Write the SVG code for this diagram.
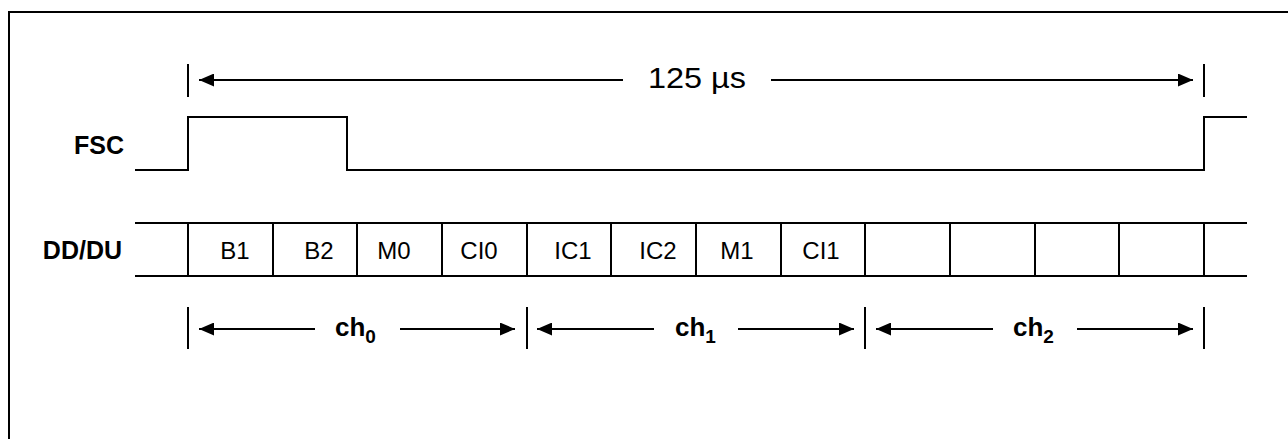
<svg xmlns="http://www.w3.org/2000/svg" width="1288" height="439" viewBox="0 0 1288 439">
<style>
.ln{stroke:#000;stroke-width:2;fill:none}
.lbl{font-family:"Liberation Sans",Arial,sans-serif;font-weight:bold;font-size:25px;fill:#000}
.cell{font-family:"Liberation Sans",Arial,sans-serif;font-size:24px;fill:#000;text-anchor:middle}
.ch{font-family:"Liberation Sans",Arial,sans-serif;font-weight:bold;font-size:26px;fill:#000}
.sub{font-size:19px}
.dim{font-family:"Liberation Sans",Arial,sans-serif;font-size:29px;fill:#000}
</style>
<defs>
<marker id="ah" viewBox="0 0 15 13" refX="15" refY="6.5" markerWidth="15" markerHeight="13" markerUnits="userSpaceOnUse" orient="auto-start-reverse">
<path d="M0,0 L15,6.5 L0,13 Z" fill="#000"/>
</marker>
</defs>
<rect width="1288" height="439" fill="#fff"/>
<g id="frame">
<path class="ln" d="M9,439 V12 H1288"/>
</g>
<g id="period">
<line class="ln" x1="188" y1="64" x2="188" y2="97"/>
<line class="ln" x1="1204" y1="64" x2="1204" y2="97"/>
<text class="dim" x="648" y="88" textLength="98" lengthAdjust="spacingAndGlyphs">125 µs</text>
</g>
<g id="fsc">
<text class="lbl" x="124" y="154" text-anchor="end">FSC</text>
<path class="ln" d="M135,170 H188 V117 H347 V170 H1204 V117 H1247"/>
</g>
<g id="dddu">
<text class="lbl" x="122" y="259" text-anchor="end">DD/DU</text>
<line class="ln" x1="135" y1="223" x2="1247" y2="223"/>
<line class="ln" x1="135" y1="276" x2="1247" y2="276"/>
<path class="ln" d="M188,223V276 M273,223V276 M357,223V276 M442,223V276 M527,223V276 M611,223V276 M696,223V276 M781,223V276 M865,223V276 M950,223V276 M1035,223V276 M1119,223V276 M1204,223V276"/>
<text class="cell" x="235" y="259">B1</text>
<text class="cell" x="319" y="259">B2</text>
<text class="cell" x="394" y="259">M0</text>
<text class="cell" x="479" y="259">CI0</text>
<text class="cell" x="573" y="259">IC1</text>
<text class="cell" x="658" y="259">IC2</text>
<text class="cell" x="737" y="259">M1</text>
<text class="cell" x="821" y="259">CI1</text>
</g>
<g id="channels">
<path class="ln" d="M188,307V349 M527,307V349 M865,307V349 M1204,307V349"/>
<text class="ch" x="335" y="336">ch<tspan class="sub" dy="7">0</tspan></text>
<text class="ch" x="675" y="336">ch<tspan class="sub" dy="7">1</tspan></text>
<text class="ch" x="1013" y="336">ch<tspan class="sub" dy="7">2</tspan></text>
</g>
<g id="connectors">
<line class="ln" x1="623" y1="80" x2="199" y2="80" marker-end="url(#ah)"/>
<line class="ln" x1="771" y1="80" x2="1193" y2="80" marker-end="url(#ah)"/>
<line class="ln" x1="315" y1="329" x2="199" y2="329" marker-end="url(#ah)"/>
<line class="ln" x1="400" y1="329" x2="515" y2="329" marker-end="url(#ah)"/>
<line class="ln" x1="654" y1="329" x2="537" y2="329" marker-end="url(#ah)"/>
<line class="ln" x1="738" y1="329" x2="854" y2="329" marker-end="url(#ah)"/>
<line class="ln" x1="993" y1="329" x2="876" y2="329" marker-end="url(#ah)"/>
<line class="ln" x1="1077" y1="329" x2="1193" y2="329" marker-end="url(#ah)"/>
</g>
</svg>
